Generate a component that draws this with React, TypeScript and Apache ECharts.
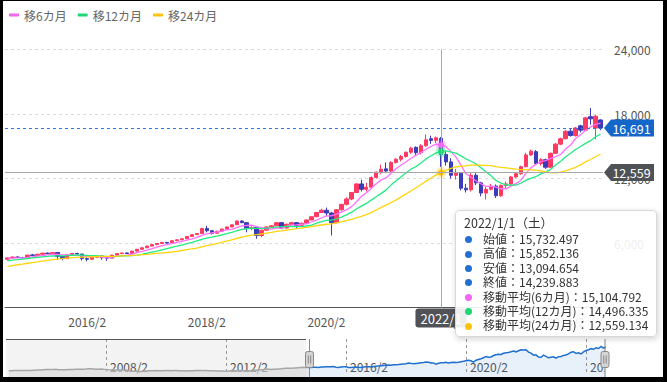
import React, { useEffect, useRef } from "react";
import * as echarts from "echarts";

// ---- data ----
const START_YEAR = 2004;
const START_MONTH = 10;
const MONTH_COUNT = 240;

// closes 2004/10 .. 2014/9 (before the visible window)
const closesEarly = [
  2550, 2600, 2680,
  2650, 2720, 2700, 2620, 2680, 2750, 2850, 2900, 3050, 3000, 3150, 3250,
  3300, 3280, 3350, 3400, 3150, 3120, 3100, 3200, 3250, 3320, 3350, 3480,
  3520, 3450, 3500, 3580, 3700, 3750, 3600, 3450, 3500, 3580, 3400, 3350,
  3100, 3050, 2900, 3050, 3150, 3050, 2950, 2900, 2650, 2250, 2150, 2200,
  2100, 2050, 2150, 2300, 2450, 2500, 2550, 2600, 2580, 2550, 2500, 2620,
  2600, 2580, 2700, 2720, 2550, 2450, 2480, 2400, 2450, 2480, 2550, 2650,
  2680, 2720, 2600, 2620, 2580, 2560, 2550, 2350, 2300, 2320, 2250, 2280,
  2400, 2580, 2650, 2580, 2420, 2480, 2500, 2520, 2560, 2620, 2750, 2900,
  3050, 3150, 3300, 3550, 3450, 3350, 3450, 3400, 3650, 3732, 3950, 4150,
  4050, 4150, 4200, 4304, 4450, 4550, 4650, 4614, 4500,
];

// visible window 2014/10 .. 2024/9
const opensV = [
  4500, 4620, 4700, 4660, 4640, 4900, 4850, 4960, 5060, 5000,
  5120, 4750, 4550, 4900, 5030, 4980, 4560, 4500, 4680, 4800,
  4640, 4600, 4880, 5020, 5080, 5040, 5250, 5420, 5560, 5720,
  5860, 5960, 6060, 6000, 6220, 6300, 6400, 6620, 6780, 6880,
  7350, 7150, 6920, 7100, 7300, 7500, 7700, 8050, 7900, 7350,
  7450, 6700, 7200, 7500, 7600, 7900, 7400, 7750, 7900, 7650,
  7850, 8150, 8450, 8850, 9050, 8800, 7900, 9100, 9600, 10100,
  10700, 11500, 11000, 11200, 12100, 12600, 12900, 12700, 13500, 13800,
  14050, 14450, 14900, 14400, 15050, 15700, 15550, 15732.497, 14240, 13550,
  12300, 12500, 11100, 10950, 12300, 11600, 10650, 11000, 11300, 10400,
  11350, 11500, 12150, 12450, 13100, 14200, 14500, 13400, 13750, 13050,
  14350, 15200, 15700, 16400, 16000, 16900, 16500, 17750, 16700, 17450,
];
const closesV = [
  4620, 4700, 4660, 4640, 4880, 4850, 4960, 5060, 5000, 5120,
  4750, 4550, 4900, 5030, 4980, 4560, 4500, 4680, 4800, 4640,
  4600, 4880, 5020, 5080, 5040, 5250, 5420, 5560, 5720, 5860,
  5960, 6060, 6000, 6220, 6300, 6400, 6620, 6780, 6880, 7350,
  7150, 6920, 7100, 7300, 7500, 7700, 8050, 7900, 7350, 7450,
  6700, 7200, 7500, 7600, 7900, 7400, 7750, 7900, 7650, 7850,
  8150, 8450, 8850, 9050, 8800, 7900, 9100, 9600, 10100, 10700,
  11500, 11000, 11200, 12100, 12600, 12863.196, 12700, 13500, 13800, 14050,
  14450, 14827.268, 14400, 15050, 15600, 15550, 15788.869, 14239.883, 13550, 12300,
  12500, 11100, 10950, 12300, 11600, 10650, 11000, 11300, 10400, 11350,
  11500, 12150, 12450, 13100, 14200, 14550, 13400, 13750, 13050, 14350,
  15200, 15700, 16400, 16000, 16700, 16500, 17650, 17550, 17800, 16691,
];
const highsV = [
  4680, 4760, 4780, 4720, 4900, 4990, 5000, 5100, 5120, 5160,
  5180, 4800, 4950, 5080, 5100, 5000, 4650, 4720, 4850, 4830,
  4700, 4920, 5060, 5120, 5130, 5290, 5460, 5600, 5750, 5900,
  6000, 6100, 6110, 6250, 6340, 6440, 6660, 6820, 6920, 7420,
  7600, 7200, 7150, 7340, 7540, 7740, 8100, 8120, 7950, 7550,
  7500, 7250, 7540, 7680, 7950, 7950, 7800, 7980, 7950, 7900,
  8200, 8480, 8880, 9200, 9300, 8900, 9150, 9650, 10250, 10750,
  11550, 11900, 11600, 12200, 12650, 13300, 13500, 13600, 13900, 14200,
  14500, 14950, 15000, 15200, 16100, 15990, 15900, 15852.136, 14500, 13900,
  12900, 12600, 11500, 12500, 12500, 11700, 11250, 11500, 11450, 11450,
  11700, 12250, 12550, 13200, 14400, 14700, 14650, 13900, 13850, 14400,
  15300, 15800, 16500, 16600, 16800, 17000, 17700, 18560, 17900, 17500,
];
const lowsV = [
  4380, 4580, 4600, 4560, 4620, 4800, 4820, 4930, 4950, 4960,
  4450, 4400, 4520, 4870, 4880, 4380, 4300, 4450, 4600, 4450,
  4350, 4580, 4850, 4980, 4990, 4950, 5230, 5390, 5530, 5680,
  5800, 5920, 5950, 5980, 6180, 6270, 6380, 6580, 6750, 6850,
  7000, 6800, 6880, 7050, 7260, 7460, 7680, 7850, 7000, 7200,
  6400, 6550, 7150, 7420, 7580, 7300, 7350, 7700, 7400, 7600,
  7780, 8120, 8420, 8800, 8500, 6700, 7850, 9000, 9500, 10000,
  10650, 10800, 10800, 11100, 12000, 12400, 12500, 12600, 13400, 13600,
  13950, 14300, 14200, 14250, 14950, 15220, 15300, 13094.654, 13200, 12000,
  11900, 10900, 10700, 10800, 11400, 10350, 10050, 10900, 10200, 10300,
  11100, 11300, 12050, 12350, 13050, 14100, 13300, 13200, 12900, 13000,
  14300, 15100, 15650, 15900, 15900, 16300, 16400, 17000, 15650, 16500,
];

const maWindows = [6, 12, 24];
const maNames = ["移6カ月", "移12カ月", "移24カ月"];
const maColors = ["#f266f2", "#1fd676", "#ffc20a"];
const maHalo = ["rgba(242,102,242,0.3)", "rgba(31,214,118,0.3)", "rgba(255,194,10,0.3)"];
const WEEKDAYS = ["日", "月", "火", "水", "木", "金", "土"];

const UP = "#ff3a62";
const DOWN = "#3c3cba";
const LAST_BLUE = "#1467c8";
const TAG_GRAY = "#4e5156";
const FONT = "'Noto Sans CJK JP', 'Noto Sans', sans-serif";

// ---- derived tables ----
const categories: string[] = [];
const dates: Date[] = [];
for (let k = 0; k < MONTH_COUNT; k++) {
  const m0 = START_MONTH - 1 + k;
  const y = START_YEAR + Math.floor(m0 / 12);
  const m = (m0 % 12) + 1;
  categories.push(`${y}/${m}`);
  dates.push(new Date(y, m - 1, 1));
}
const closes = closesEarly.concat(closesV);
const opens = closesEarly.map((c, k) => (k === 0 ? c : closesEarly[k - 1])).concat(opensV);
const highs = closesEarly.map((c, k) => Math.max(c, opens[k])).concat(highsV);
const lows = closesEarly.map((c, k) => Math.min(c, opens[k])).concat(lowsV);
const candleData = closes.map((c, k) => [opens[k], c, lows[k], highs[k]]);

function movingAverage(n: number): (number | string)[] {
  return closes.map((_, k) => {
    if (k < n - 1) return "-";
    let s = 0;
    for (let j = k - n + 1; j <= k; j++) s += closes[j];
    return s / n;
  });
}
const maData = maWindows.map((n) => movingAverage(n));

const FOCUS_INDEX = categories.indexOf("2022/1");
const LAST = MONTH_COUNT - 1;
const VIEW_START = categories.indexOf("2014/10");

const fmt0 = (v: number) => Math.round(v).toLocaleString("en-US");
const fmt3 = (v: number) =>
  v.toLocaleString("en-US", { minimumFractionDigits: 3, maximumFractionDigits: 3 });

// layout (chart coordinates)
const SL = 3; // slider left
const SW = 597.5; // slider width
const HANDLE_X = SL + (SW * VIEW_START) / (MONTH_COUNT - 1);

const HANDLE_ICON =
  "path://M0,0V11.5M0,27.5V40M-2,11.5h4a2,2,0,0,1,2,2v12a2,2,0,0,1,-2,2h-4a2,2,0,0,1,-2,-2v-12a2,2,0,0,1,2,-2ZM-1.2,15.5V23.5M1.2,15.5V23.5";
const TAG_PATH = "path://M0,8.5L7,0H50V17H7Z";

function dot(color: string) {
  return `<span style="display:inline-block;width:7px;height:7px;border-radius:50%;background:${color};margin:0 11px 0 1px;vertical-align:middle;position:relative;top:-1px"></span>`;
}

function tooltipFormatter(params: any) {
  const p = Array.isArray(params) ? params[0] : params;
  const idx = categories.indexOf(p.axisValue);
  if (idx < 0) return "";
  const d = dates[idx];
  const rows: string[] = [];
  const blue = "#2470d0";
  rows.push(`${dot(blue)}始値：${fmt3(opens[idx])}`);
  rows.push(`${dot(blue)}高値：${fmt3(highs[idx])}`);
  rows.push(`${dot(blue)}安値：${fmt3(lows[idx])}`);
  rows.push(`${dot(blue)}終値：${fmt3(closes[idx])}`);
  maWindows.forEach((n, i) => {
    const v = maData[i][idx];
    rows.push(`${dot(maColors[i])}移動平均(${n}カ月)：${typeof v === "number" ? fmt3(v) : "-"}`);
  });
  return (
    `<div style="font-family:${FONT};color:#333">` +
    `<div style="font-size:12.5px;line-height:18px">${categories[idx]}/1（${WEEKDAYS[d.getDay()]}）</div>` +
    rows.map((r) => `<div style="font-size:12px;line-height:14.4px;white-space:nowrap">${r}</div>`).join("") +
    `</div>`
  );
}

export default function App() {
  const ref = useRef<HTMLDivElement>(null);

  useEffect(() => {
    document.body.style.margin = "0";
    document.body.style.background = "#000";
    const chart = echarts.init(ref.current as HTMLDivElement, undefined, { renderer: "svg" });

    const option: any = {
      animation: false,
      backgroundColor: "#fff",
      textStyle: { fontFamily: FONT },
      legend: {
        left: 1,
        top: 3,
        icon: "roundRect",
        itemWidth: 10,
        itemHeight: 3,
        itemGap: 11,
        textStyle: { color: "#666", fontSize: 12, fontFamily: FONT },
        data: maNames,
      },
      grid: [
        { left: 2, width: 598, top: 48.5, height: 258.1 },
        { left: SL, width: SW, top: 338, height: 33 },
      ],
      tooltip: {
        trigger: "axis",
        alwaysShowContent: true,
        transitionDuration: 0,
        position: () => [452, 209],
        backgroundColor: "rgba(255,255,255,0.9)",
        borderColor: "#d8d8d8",
        borderWidth: 1,
        padding: [3, 8],
        extraCssText: "box-shadow: 1px 2px 6px rgba(0,0,0,0.18); border-radius: 4px;",
        axisPointer: {
          type: "cross",
          crossStyle: { color: "#a8a8a8", width: 1, type: "solid" },
          lineStyle: { color: "#a8a8a8", width: 1, type: "solid" },
          label: {
            backgroundColor: "#505257",
            color: "#fff",
            fontSize: 13,
            padding: [3, 5, 3, 5],
            margin: 1,
            fontFamily: FONT,
          },
        },
        formatter: tooltipFormatter,
      },
      xAxis: [
        {
          type: "category",
          gridIndex: 0,
          data: categories,
          boundaryGap: true,
          axisLine: { lineStyle: { color: "#555" } },
          axisTick: { show: false },
          axisLabel: {
            color: "#555",
            fontSize: 12,
            margin: 8,
            interval: (_: number, v: string) => {
              const [y, m] = v.split("/").map(Number);
              return m === 2 && y % 2 === 0;
            },
          },
          splitLine: { show: false },
        },
        {
          type: "category",
          gridIndex: 1,
          data: categories,
          boundaryGap: false,
          z: 2,
          axisLine: { show: false },
          axisTick: { show: false },
          axisPointer: { show: false },
          axisLabel: {
            inside: true,
            margin: 0,
            align: "left",
            padding: [0, 0, 0, 4],
            color: "#555",
            fontSize: 12,
            interval: (_: number, v: string) => {
              const [y, m] = v.split("/").map(Number);
              return m === 2 && y % 4 === 0;
            },
          },
          splitLine: {
            show: true,
            interval: (_: number, v: string) => {
              const [y, m] = v.split("/").map(Number);
              return m === 2 && y % 4 === 0;
            },
            lineStyle: { color: "#999", type: [3, 3], width: 1 },
          },
        },
      ],
      yAxis: [
        {
          type: "value",
          gridIndex: 0,
          position: "right",
          min: 0,
          max: 24000,
          interval: 6000,
          axisLine: { show: false },
          axisTick: { show: false },
          axisPointer: { label: { show: false } },
          axisLabel: {
            color: "#555",
            fontSize: 12,
            margin: 11,
            showMinLabel: false,
            formatter: (v: number) => fmt0(v),
          },
          splitLine: {
            show: true,
            showMinLine: false,
            lineStyle: { color: "#dcdcdc", type: [3, 3] },
          },
        },
        { type: "value", gridIndex: 1, show: false, min: 0, max: 1 },
      ],
      dataZoom: [
        {
          type: "slider",
          xAxisIndex: 0,
          startValue: VIEW_START,
          endValue: LAST,
          left: SL,
          width: SW,
          top: 338,
          height: 40,
          backgroundColor: "rgba(0,0,0,0)",
          borderColor: "rgba(0,0,0,0)",
          fillerColor: "rgba(0,0,0,0)",
          showDetail: false,
          brushSelect: false,
          moveHandleSize: 0,
          handleIcon: HANDLE_ICON,
          handleSize: "100%",
          handleStyle: { color: "#d4d4d4", borderColor: "#888", borderWidth: 1 },
          emphasis: { handleStyle: { color: "#d4d4d4", borderColor: "#888", borderWidth: 1 } },
          dataBackground: {
            lineStyle: { color: "#a6a6a6", width: 1.5, opacity: 1 },
            areaStyle: { color: "#d9d9d9", opacity: 0.6 },
          },
          selectedDataBackground: {
            lineStyle: { color: "#1e6fd0", width: 1.5, opacity: 1 },
            areaStyle: { color: "rgba(30,111,208,0.1)", opacity: 1 },
          },
        },
      ],
      graphic: [
        {
          type: "rect",
          z: 1,
          silent: true,
          shape: { x: SL, y: 338, width: HANDLE_X - SL, height: 44 },
          style: { fill: "#f3f3f3" },
        },
        {
          type: "line",
          z: 5,
          silent: true,
          shape: { x1: SL, y1: 338.5, x2: HANDLE_X, y2: 338.5 },
          style: { stroke: "#555", lineWidth: 1 },
        },
        {
          type: "rect",
          z: 3,
          silent: true,
          shape: { x: SL + SW + 1, y: 338, width: 70, height: 44 },
          style: { fill: "#fff" },
        },
      ],
      series: [
        {
          name: "ローソク足",
          type: "candlestick",
          xAxisIndex: 0,
          yAxisIndex: 0,
          data: candleData,
          barWidth: "78%",
          itemStyle: {
            color: UP,
            color0: DOWN,
            borderColor: UP,
            borderColor0: DOWN,
            borderWidth: 1,
          },
          emphasis: { itemStyle: { borderWidth: 1 } },
          markLine: {
            silent: true,
            symbol: ["none", "none"],
            label: { show: false },
            lineStyle: { color: "#2b7be0", type: [3, 3], width: 1 },
            emphasis: { disabled: true },
            data: [{ yAxis: closes[LAST] }],
          },
          markPoint: {
            silent: true,
            symbol: TAG_PATH,
            symbolSize: [50, 17],
            symbolOffset: [28.5, 0],
            itemStyle: { color: LAST_BLUE },
            label: {
              show: true,
              position: "inside",
              offset: [2.5, 0],
              color: "#fff",
              fontSize: 12.5,
              fontFamily: FONT,
              formatter: () => fmt0(closes[LAST]),
            },
            data: [{ coord: [categories[LAST], closes[LAST]] }],
          },
        },
        ...maWindows.map((n, i) => ({
          name: maNames[i],
          type: "line",
          xAxisIndex: 0,
          yAxisIndex: 0,
          data: maData[i],
          showSymbol: false,
          symbol: "circle",
          symbolSize: 6,
          smooth: false,
          lineStyle: { color: maColors[i], width: 1.3 },
          itemStyle: { color: maColors[i] },
          emphasis: {
            scale: false,
            focus: "none",
            lineStyle: { width: 1.3 },
            itemStyle: { color: maColors[i], borderColor: maHalo[i], borderWidth: 5 },
          },
          markPoint:
            i === 2
              ? {
                  silent: true,
                  symbol: TAG_PATH,
                  symbolSize: [50, 17],
                  symbolOffset: [28.5, 0],
                  itemStyle: { color: TAG_GRAY },
                  label: {
                    show: true,
                    position: "inside",
                    offset: [2.5, 0],
                    color: "#fff",
                    fontSize: 12.5,
                    fontFamily: FONT,
                    formatter: () => fmt0(maData[2][FOCUS_INDEX] as number),
                  },
                  data: [{ coord: [categories[LAST], maData[2][FOCUS_INDEX]] }],
                }
              : undefined,
        })),
      ],
    };

    chart.setOption(option);
    chart.dispatchAction({ type: "showTip", seriesIndex: 3, dataIndex: FOCUS_INDEX });

    return () => chart.dispose();
  }, []);

  return (
    <div style={{ position: "relative", width: 667, height: 382, background: "#000", overflow: "hidden" }}>
      <div
        style={{
          position: "absolute",
          left: 3,
          top: 1,
          width: 660,
          height: 376,
          background: "#fff",
          overflow: "hidden",
        }}
      >
        <div ref={ref} style={{ width: 660, height: 380 }} />
      </div>
    </div>
  );
}
